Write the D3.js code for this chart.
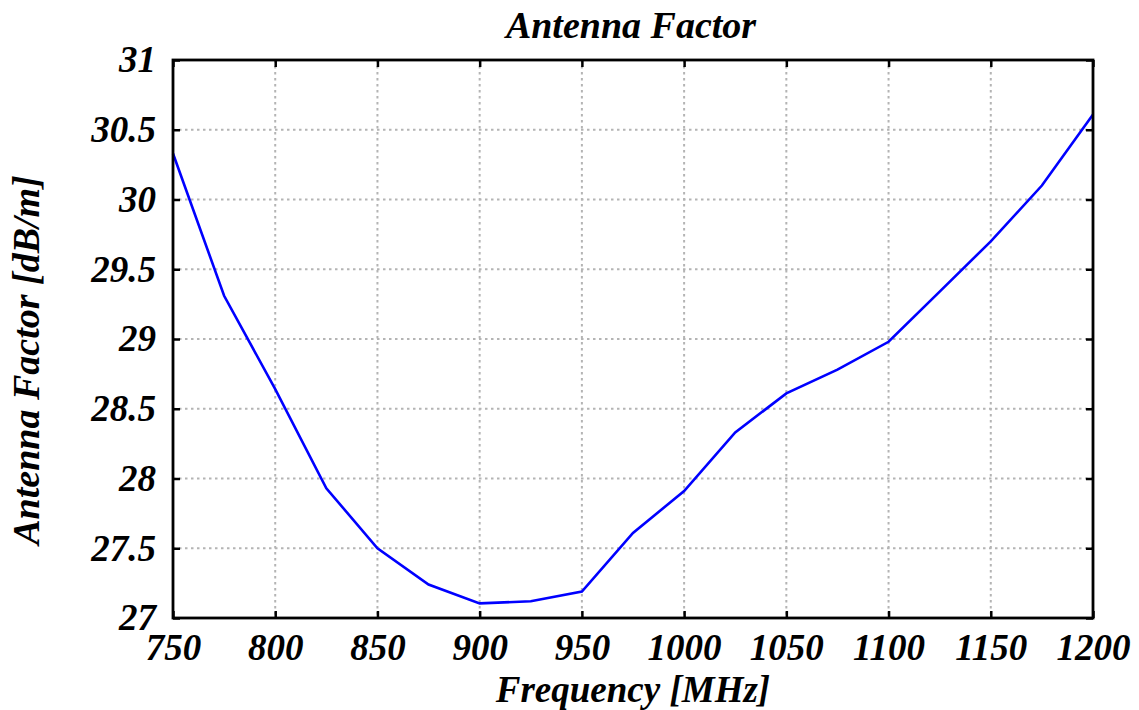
<!DOCTYPE html>
<html>
<head>
<meta charset="utf-8">
<script src="https://cdn.jsdelivr.net/npm/d3@7"></script>
<style>
  body { margin: 0; background: #fff; }
  text { font-family: "Liberation Serif", "Times New Roman", serif; font-weight: bold; font-style: italic; }
</style>
</head>
<body>
<div id="chart"></div>
<script>
const freqs = [750, 775, 800, 825, 850, 875, 900, 925, 950, 975, 1000, 1025, 1050, 1075, 1100, 1125, 1150, 1175, 1200];
const factor = [30.33, 29.31, 28.64, 27.93, 27.50, 27.24, 27.105, 27.12, 27.19, 27.61, 27.91, 28.33, 28.61, 28.78, 28.98, 29.34, 29.70, 30.10, 30.61];
const xTicks = [750, 800, 850, 900, 950, 1000, 1050, 1100, 1150, 1200];
const yTicks = [27, 27.5, 28, 28.5, 29, 29.5, 30, 30.5, 31];

const width = 1139, height = 710;
const margin = { top: 60, right: 46, bottom: 92, left: 173 };
const iw = width - margin.left - margin.right;
const ih = height - margin.top - margin.bottom;

const svg = d3.select('#chart').append('svg').attr('width', width).attr('height', height);
const g = svg.append('g').attr('transform', `translate(${margin.left},${margin.top})`);

const x = d3.scaleLinear().domain([750, 1200]).range([0, iw]);
const y = d3.scaleLinear().domain([27, 31]).range([ih, 0]);

// grid
g.selectAll('.vg').data(xTicks.slice(1, -1)).enter().append('line')
  .attr('x1', d => x(d)).attr('x2', d => x(d)).attr('y1', 0).attr('y2', ih)
  .attr('stroke', '#b4b4b4').attr('stroke-width', 2).attr('stroke-dasharray', '2.5,3.5');
g.selectAll('.hg').data(yTicks.slice(1, -1)).enter().append('line')
  .attr('y1', d => y(d)).attr('y2', d => y(d)).attr('x1', 0).attr('x2', iw)
  .attr('stroke', '#b4b4b4').attr('stroke-width', 2).attr('stroke-dasharray', '2.5,3.5');

// line
const line = d3.line().x((d, i) => x(freqs[i])).y(d => y(d));
g.append('path').datum(factor).attr('d', line)
  .attr('fill', 'none').attr('stroke', '#0000ff').attr('stroke-width', 2.6);

// axes with inward ticks
const fmt = d => String(d);
const ax = (sel) => sel.call(s => s.select('.domain').remove())
  .call(s => s.selectAll('line').attr('stroke', '#000').attr('stroke-width', 2.5));
g.append('g').attr('transform', `translate(0,${ih})`)
  .call(d3.axisBottom(x).tickValues(xTicks).tickFormat(fmt).tickSize(-7).tickPadding(16))
  .call(ax).selectAll('text').attr('font-size', 37).attr('fill', '#000')
  .attr('dy', '0.71em');
g.append('g')
  .call(d3.axisLeft(y).tickValues(yTicks).tickFormat(fmt).tickSize(-7).tickPadding(17))
  .call(ax).selectAll('text').attr('font-size', 37).attr('fill', '#000');
g.append('g')
  .call(d3.axisTop(x).tickValues(xTicks).tickFormat('').tickSize(-7)).call(ax);
g.append('g').attr('transform', `translate(${iw},0)`)
  .call(d3.axisRight(y).tickValues(yTicks).tickFormat('').tickSize(-7)).call(ax);

// frame
g.append('rect').attr('width', iw).attr('height', ih)
  .attr('fill', 'none').attr('stroke', '#000').attr('stroke-width', 2.8);

// labels
svg.append('text').attr('x', margin.left + iw / 2 - 2).attr('y', 38)
  .attr('text-anchor', 'middle').attr('font-size', 38).text('Antenna Factor');
svg.append('text').attr('x', margin.left + iw / 2).attr('y', 702)
  .attr('text-anchor', 'middle').attr('font-size', 37).text('Frequency [MHz]');
svg.append('text').attr('transform', `translate(39,360) rotate(-90)`)
  .attr('text-anchor', 'middle').attr('font-size', 38).text('Antenna Factor [dB/m]');
</script>
</body>
</html>
